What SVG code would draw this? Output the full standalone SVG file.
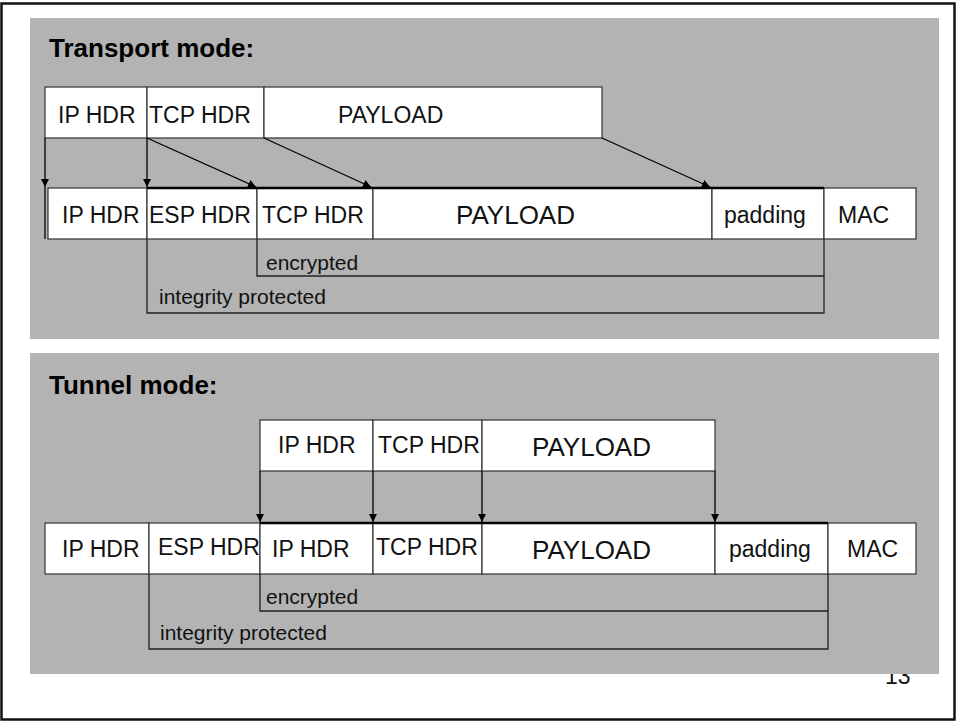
<svg xmlns="http://www.w3.org/2000/svg" width="958" height="723" viewBox="0 0 958 723">
<defs>
<marker id="ah" viewBox="0 0 10 10" refX="10" refY="5" markerWidth="8" markerHeight="8" markerUnits="userSpaceOnUse" orient="auto">
<path d="M0,0 L10,5 L0,10 z" fill="#000"/>
</marker>
<style>
.box{fill:#fff;stroke:#333;stroke-width:1.2}
.t{font-family:"Liberation Sans",Arial,sans-serif;font-size:23px;fill:#111}
.big{font-size:26px}
.sm{font-family:"Liberation Sans",Arial,sans-serif;font-size:21px;fill:#111}
.title{font-family:"Liberation Sans",Arial,sans-serif;font-size:26px;font-weight:bold;fill:#000}
.ln{fill:none;stroke:#000;stroke-width:1.3}
.br{fill:none;stroke:#222;stroke-width:1.3}
.top{stroke:#000;stroke-width:2.5}
.panel{fill:#b3b3b3}
</style>
</defs>
<rect x="0" y="0" width="958" height="723" fill="#fff"/>
<text x="885" y="684" class="t">13</text>
<rect x="1.5" y="3.5" width="953" height="716" fill="none" stroke="#111" stroke-width="2.5"/>
<rect class="panel" x="30" y="18" width="909" height="321"/>
<rect class="panel" x="30" y="353" width="909" height="321"/>

<text x="49" y="57" class="title">Transport mode:</text>
<text x="49" y="394" class="title">Tunnel mode:</text>

<!-- Transport: original packet -->
<g id="t-orig-ip"><rect class="box" x="45" y="87" width="102" height="51"/><text x="58" y="123" class="t">IP HDR</text></g>
<g id="t-orig-tcp"><rect class="box" x="147" y="87" width="117" height="51"/><text x="149" y="123" class="t">TCP HDR</text></g>
<g id="t-orig-payload"><rect class="box" x="264" y="87" width="338" height="51"/><text x="338" y="123" class="t">PAYLOAD</text></g>

<!-- Transport: ESP packet -->
<g id="t-esp-ip"><rect class="box" x="48" y="188" width="99" height="51"/><text x="62" y="223" class="t">IP HDR</text></g>
<g id="t-esp-esp"><rect class="box" x="147" y="188" width="110" height="51"/><text x="149" y="223" class="t">ESP HDR</text></g>
<g id="t-esp-tcp"><rect class="box" x="257" y="188" width="116" height="51"/><text x="262" y="223" class="t">TCP HDR</text></g>
<g id="t-esp-payload"><rect class="box" x="373" y="188" width="339" height="51"/><text x="456" y="224" class="t big">PAYLOAD</text></g>
<g id="t-esp-padding"><rect class="box" x="712" y="188" width="112" height="51"/><text x="724" y="223" class="t">padding</text></g>
<g id="t-esp-mac"><rect class="box" x="824" y="188" width="92" height="51"/><text x="838" y="223" class="t">MAC</text></g>

<!-- Tunnel: original packet -->
<g id="u-orig-ip"><rect class="box" x="260" y="420" width="113" height="51"/><text x="278" y="453" class="t">IP HDR</text></g>
<g id="u-orig-tcp"><rect class="box" x="373" y="420" width="109" height="51"/><text x="378" y="453" class="t">TCP HDR</text></g>
<g id="u-orig-payload"><rect class="box" x="482" y="420" width="233" height="51"/><text x="532" y="456" class="t big">PAYLOAD</text></g>

<!-- Tunnel: ESP packet -->
<g id="u-esp-ip"><rect class="box" x="45" y="523" width="104" height="51"/><text x="62" y="557" class="t">IP HDR</text></g>
<g id="u-esp-esp"><rect class="box" x="149" y="523" width="111" height="51"/><text x="158" y="555" class="t">ESP HDR</text></g>
<g id="u-esp-ip2"><rect class="box" x="260" y="523" width="113" height="51"/><text x="272" y="557" class="t">IP HDR</text></g>
<g id="u-esp-tcp"><rect class="box" x="373" y="523" width="109" height="51"/><text x="376" y="555" class="t">TCP HDR</text></g>
<g id="u-esp-payload"><rect class="box" x="482" y="523" width="233" height="51"/><text x="532" y="559" class="t big">PAYLOAD</text></g>
<g id="u-esp-padding"><rect class="box" x="715" y="523" width="113" height="51"/><text x="729" y="557" class="t">padding</text></g>
<g id="u-esp-mac"><rect class="box" x="828" y="523" width="88" height="51"/><text x="847" y="557" class="t">MAC</text></g>

<g id="connectors">
<!-- transport -->
<line class="ln" x1="45" y1="138" x2="45" y2="187" marker-end="url(#ah)"/>
<line class="ln" x1="45" y1="187" x2="45" y2="239"/>
<line class="ln" x1="147" y1="138" x2="147" y2="187" marker-end="url(#ah)"/>
<line class="ln" x1="147" y1="138" x2="256" y2="187" marker-end="url(#ah)"/>
<line class="ln" x1="264" y1="138" x2="371" y2="187" marker-end="url(#ah)"/>
<line class="ln" x1="602" y1="138" x2="710" y2="187" marker-end="url(#ah)"/>
<line class="top" x1="147" y1="188" x2="824" y2="188"/>
<path class="br" d="M257,239 V276 H824 V239"/>
<path class="br" d="M147,239 V313 H824 V276"/>
<!-- tunnel -->
<line class="ln" x1="260" y1="471" x2="260" y2="522" marker-end="url(#ah)"/>
<line class="ln" x1="373" y1="471" x2="373" y2="522" marker-end="url(#ah)"/>
<line class="ln" x1="482" y1="471" x2="482" y2="522" marker-end="url(#ah)"/>
<line class="ln" x1="715" y1="471" x2="715" y2="522" marker-end="url(#ah)"/>
<line class="top" x1="260" y1="523" x2="828" y2="523"/>
<path class="br" d="M260,574 V611 H828 V574"/>
<path class="br" d="M149,574 V649 H828 V611"/>
</g>

<text x="266" y="270" class="sm">encrypted</text>
<text x="159" y="304" class="sm">integrity protected</text>
<text x="266" y="604" class="sm">encrypted</text>
<text x="160" y="640" class="sm">integrity protected</text>
</svg>
